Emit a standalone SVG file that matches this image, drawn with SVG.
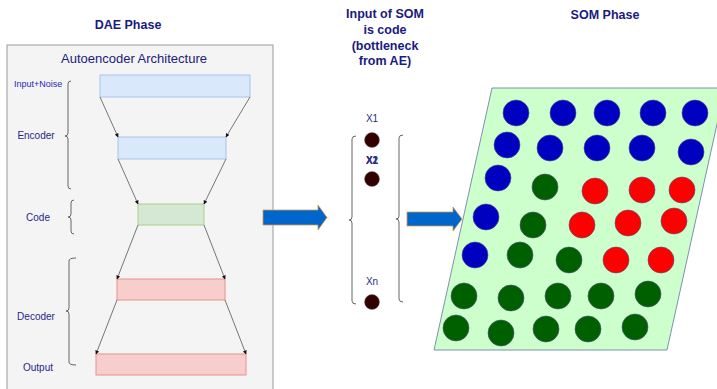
<svg xmlns="http://www.w3.org/2000/svg" width="717" height="389" viewBox="0 0 717 389">
<defs>
<style>
.t{font-family:"Liberation Sans",Arial,sans-serif;}
.h{font-weight:bold;fill:#1a1a80;font-size:12.5px;text-anchor:middle;}
.lbl{fill:#26268a;font-size:10px;text-anchor:middle;}
.br{fill:none;stroke:#666;stroke-width:1;}
.conn{stroke:#555;stroke-width:0.8;fill:none;marker-end:url(#ah);}
.blue{fill:#dae8fc;stroke:#a9c4eb;}
.green{fill:#d5e8d4;stroke:#a8d08d;}
.red{fill:#f8cecc;stroke:#e6928c;}
.cb{fill:#0000c0;stroke:#4d4d80;stroke-width:0.6;}
.cg{fill:#006000;stroke:#4d4d80;stroke-width:0.6;}
.cr{fill:#ff0000;stroke:#4d4d80;stroke-width:0.6;}
.dot{fill:#330000;stroke:#777;stroke-width:0.5;}
.bigarrow{fill:#0066cc;stroke:#d79b45;stroke-width:0.8;}
</style>
<marker id="ah" markerWidth="4" markerHeight="4" refX="3.5" refY="2" orient="auto" markerUnits="userSpaceOnUse">
<path d="M0,0 L4,2 L0,4 Z" fill="#111"/>
</marker>
</defs>

<text class="t h" x="128" y="29" font-size="11.5">DAE Phase</text>
<g id="dae-container">
<rect x="7" y="45" width="266" height="360" fill="#f4f4f4" stroke="#9a9a9a" stroke-width="1"/>
<text class="t" x="134" y="63" font-size="13" fill="#20207a" text-anchor="middle">Autoencoder Architecture</text>
</g>

<g id="input-box"><rect class="blue" x="100" y="75" width="150" height="22"/></g>
<g id="encoder-box"><rect class="blue" x="118" y="137" width="108" height="22"/></g>
<g id="code-box"><rect class="green" x="138" y="204" width="66" height="21"/></g>
<g id="decoder-box"><rect class="red" x="117" y="279" width="108" height="21"/></g>
<g id="output-box"><rect class="red" x="96" y="354" width="150" height="21"/></g>

<g id="labels">
<text class="t" x="14" y="87" font-size="9" fill="#2a2ab0">Input+Noise</text>
<text class="t lbl" x="36" y="139">Encoder</text>
<text class="t lbl" x="38" y="221">Code</text>
<text class="t lbl" x="36" y="320">Decoder</text>
<text class="t lbl" x="38" y="371">Output</text>
</g>

<g id="braces">
<path class="br" d="M71,81 Q68,81 68,84 L68,133 Q68,136 65,136 Q68,136 68,139 L68,186 Q68,189 71,189"/>
<path class="br" d="M74,200 Q71,200 71,203 L71,214 Q71,217 68,217 Q71,217 71,220 L71,231 Q71,234 74,234"/>
<path class="br" d="M76,258 Q69,258 69,261 L69,308 Q69,311 66,311 Q69,311 69,314 L69,362 Q69,365 76,365"/>
<path class="br" d="M356,136 Q352,136 352,139 L352,217 Q352,220 349,220 Q352,220 352,223 L352,301 Q352,304 356,304"/>
<path class="br" d="M403,135 Q399,135 399,138 L399,216 Q399,219 396,219 Q399,219 399,222 L399,299 Q399,302 403,302"/>
</g>

<g id="connectors">
<line class="conn" x1="100" y1="97" x2="118" y2="137"/>
<line class="conn" x1="250" y1="97" x2="226" y2="137"/>
<line class="conn" x1="118" y1="159" x2="138" y2="204"/>
<line class="conn" x1="226" y1="159" x2="204" y2="204"/>
<line class="conn" x1="138" y1="225" x2="117" y2="279"/>
<line class="conn" x1="204" y1="225" x2="225" y2="279"/>
<line class="conn" x1="117" y1="300" x2="96" y2="354"/>
<line class="conn" x1="225" y1="300" x2="246" y2="354"/>
<path class="bigarrow" d="M263,210 L318,210 L318,205 L327,217.5 L318,230 L318,225 L263,225 Z"/>
<path class="bigarrow" d="M407,212 L453,212 L453,207 L462,219 L453,231 L453,226 L407,226 Z"/>
</g>

<g id="som-input-title">
<text class="t h" x="385" y="18">Input of SOM</text>
<text class="t h" x="385" y="34">is code</text>
<text class="t h" x="385" y="50">(bottleneck</text>
<text class="t h" x="385" y="65">from AE)</text>
</g>

<g id="som-input">
<text class="t" x="372" y="122" font-size="10" fill="#2b2b8a" text-anchor="middle">X1</text>
<circle class="dot" cx="372" cy="140" r="7.5"/>
<text class="t" x="372" y="164" font-size="10" fill="#2b2b8a" text-anchor="middle" font-weight="bold">X2</text>
<text class="t" x="372" y="164" font-size="10" fill="#2b2b8a" text-anchor="middle" font-weight="bold">X1</text>
<circle class="dot" cx="372" cy="179" r="7.5"/>
<text class="t" x="372" y="285" font-size="10" fill="#2b2b8a" text-anchor="middle">Xn</text>
<circle class="dot" cx="372" cy="302" r="7.5"/>
</g>

<text class="t h" x="605" y="19">SOM Phase</text>

<g id="som-grid">
<polygon points="492,88 725,88 667,350 434,350" fill="#ccffcc" stroke="#7f8fb0" stroke-width="1"/>
<circle class="cb" cx="516" cy="113" r="13"/>
<circle class="cb" cx="563" cy="113" r="13"/>
<circle class="cb" cx="607" cy="113" r="13"/>
<circle class="cb" cx="653" cy="113" r="13"/>
<circle class="cb" cx="695" cy="113" r="13"/>
<circle class="cb" cx="507" cy="145" r="13"/>
<circle class="cb" cx="550" cy="148" r="13"/>
<circle class="cb" cx="597" cy="148" r="13"/>
<circle class="cb" cx="642" cy="148" r="13"/>
<circle class="cb" cx="691" cy="152" r="13"/>
<circle class="cb" cx="498" cy="178" r="13"/>
<circle class="cg" cx="545" cy="187" r="13"/>
<circle class="cr" cx="595" cy="191" r="13"/>
<circle class="cr" cx="642" cy="190" r="13"/>
<circle class="cr" cx="682" cy="190" r="13"/>
<circle class="cb" cx="486" cy="217" r="13"/>
<circle class="cg" cx="533" cy="225" r="13"/>
<circle class="cr" cx="582" cy="225" r="13"/>
<circle class="cr" cx="628" cy="223" r="13"/>
<circle class="cr" cx="674" cy="221" r="13"/>
<circle class="cb" cx="475" cy="255" r="13"/>
<circle class="cg" cx="520" cy="255" r="13"/>
<circle class="cg" cx="569" cy="260" r="13"/>
<circle class="cr" cx="616" cy="260" r="13"/>
<circle class="cr" cx="661" cy="260" r="13"/>
<circle class="cg" cx="464" cy="296" r="13"/>
<circle class="cg" cx="511" cy="298" r="13"/>
<circle class="cg" cx="558" cy="296" r="13"/>
<circle class="cg" cx="601" cy="296" r="13"/>
<circle class="cg" cx="648" cy="294" r="13"/>
<circle class="cg" cx="456" cy="328" r="13"/>
<circle class="cg" cx="501" cy="333" r="13"/>
<circle class="cg" cx="546" cy="329" r="13"/>
<circle class="cg" cx="588" cy="329" r="13"/>
<circle class="cg" cx="635" cy="327" r="13"/>
</g>
</svg>
